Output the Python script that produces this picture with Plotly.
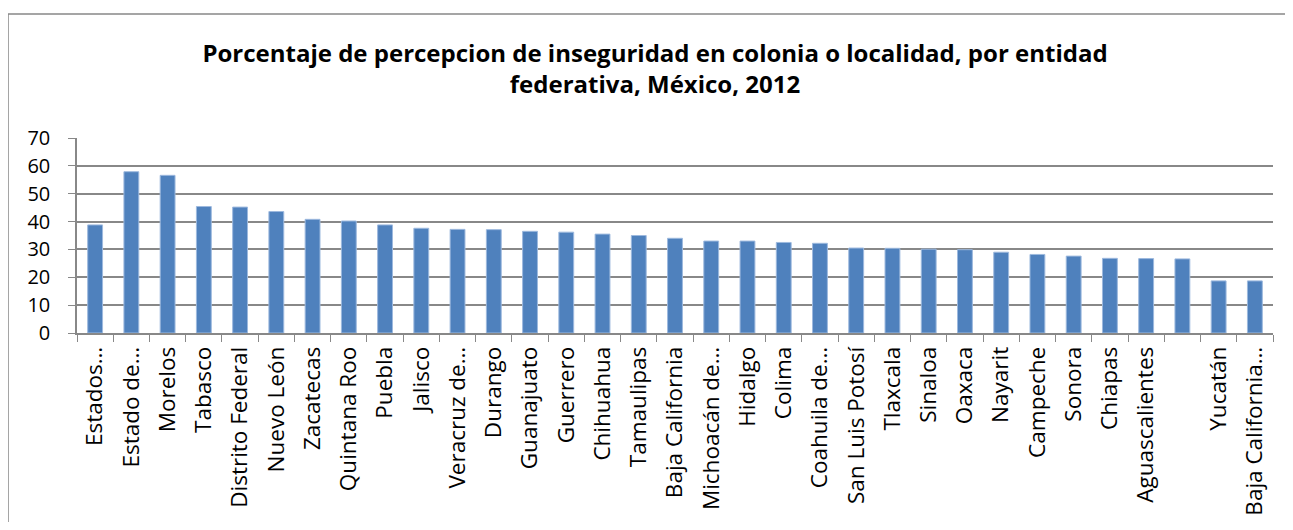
import plotly.graph_objects as go

categories = [
    "Estados Unidos Mexicanos", "Estado de México", "Morelos", "Tabasco", "Distrito Federal",
    "Nuevo León", "Zacatecas", "Quintana Roo", "Puebla", "Jalisco",
    "Veracruz de Ignacio de la Llave", "Durango", "Guanajuato", "Guerrero", "Chihuahua",
    "Tamaulipas", "Baja California", "Michoacán de Ocampo", "Hidalgo", "Colima",
    "Coahuila de Zaragoza", "San Luis Potosí", "Tlaxcala", "Sinaloa", "Oaxaca",
    "Nayarit", "Campeche", "Sonora", "Chiapas", "Aguascalientes",
    "Querétaro", "Yucatán", "Baja California Sur",
]
tick_labels = [
    "Estados…", "Estado de…", "Morelos", "Tabasco", "Distrito Federal",
    "Nuevo León", "Zacatecas", "Quintana Roo", "Puebla", "Jalisco",
    "Veracruz de…", "Durango", "Guanajuato", "Guerrero", "Chihuahua",
    "Tamaulipas", "Baja California", "Michoacán de…", "Hidalgo", "Colima",
    "Coahuila de…", "San Luis Potosí", "Tlaxcala", "Sinaloa", "Oaxaca",
    "Nayarit", "Campeche", "Sonora", "Chiapas", "Aguascalientes",
    "", "Yucatán", "Baja California…",
]
values = [
    38.8, 57.9, 56.6, 45.4, 45.2,
    43.6, 40.8, 40.2, 38.8, 37.6,
    37.2, 37.1, 36.5, 36.2, 35.5,
    35.0, 34.0, 33.0, 33.0, 32.5,
    32.2, 30.5, 30.4, 30.1, 29.9,
    29.0, 28.2, 27.6, 26.8, 26.7,
    26.6, 18.7, 18.7,
]
y_ticks = [0, 10, 20, 30, 40, 50, 60, 70]

FONT = "Open Sans, Liberation Sans, sans-serif"

fig = go.Figure()
fig.add_trace(go.Bar(
    x=categories, y=values,
    marker=dict(color="#4F81BD", line=dict(color="#9DB9DE", width=1)),
))

# page is shown with an 8px body margin; size the figure so nothing overflows
OFF = 8
W, H = 1293 - 2 * OFF, 530 - 2 * OFF
L = 77 - OFF
T = 137.5 - OFF
plot_right = 1273 - OFF
plot_bottom = 333.3 - OFF
R = W - plot_right
B = H - plot_bottom
pw = W - L - R
ph = H - T - B

fig.update_layout(
    width=W, height=H,
    margin=dict(l=L, r=R, t=T, b=B),
    paper_bgcolor="white", plot_bgcolor="white",
    bargap=0.59,
    showlegend=False,
    font=dict(family=FONT, color="black"),
    title=dict(
        text="<b>Porcentaje de percepcion de inseguridad en colonia o localidad, por entidad<br>federativa, México, 2012</b>",
        x=(655 - OFF - L) / pw, xref="paper", xanchor="center",
        y=1 - 54 / H, yref="container", yanchor="top",
        font=dict(family=FONT, size=24, color="black"),
    ),
    xaxis=dict(
        tickmode="array", tickvals=categories, ticktext=tick_labels,
        tickangle=-90, tickfont=dict(size=22.5, family=FONT, color="black"),
        tickson="boundaries", ticks="outside", ticklen=7, tickcolor="#888888",
        ticklabelstandoff=3,
        showline=True, linecolor="#888888", linewidth=1.5,
        showgrid=False, automargin=False,
    ),
    yaxis=dict(
        range=[0, 70], tickvals=y_ticks,
        tickfont=dict(size=20, family=FONT, color="black"),
        ticks="outside", ticklen=7, tickcolor="#888888",
        ticklabelstandoff=14,
        showline=True, linecolor="#888888", linewidth=1.5,
        showgrid=True, gridcolor="#888888", gridwidth=1.5,
        zeroline=False, automargin=False,
    ),
    shapes=[dict(
        type="rect", xref="paper", yref="paper",
        x0=(8 - OFF - L) / pw, x1=1.5,
        y0=-3, y1=(plot_bottom - (13 - OFF)) / ph,
        line=dict(color="#888888", width=1.5), fillcolor="rgba(0,0,0,0)",
        layer="below",
    )],
)

fig.write_html("out.html")
